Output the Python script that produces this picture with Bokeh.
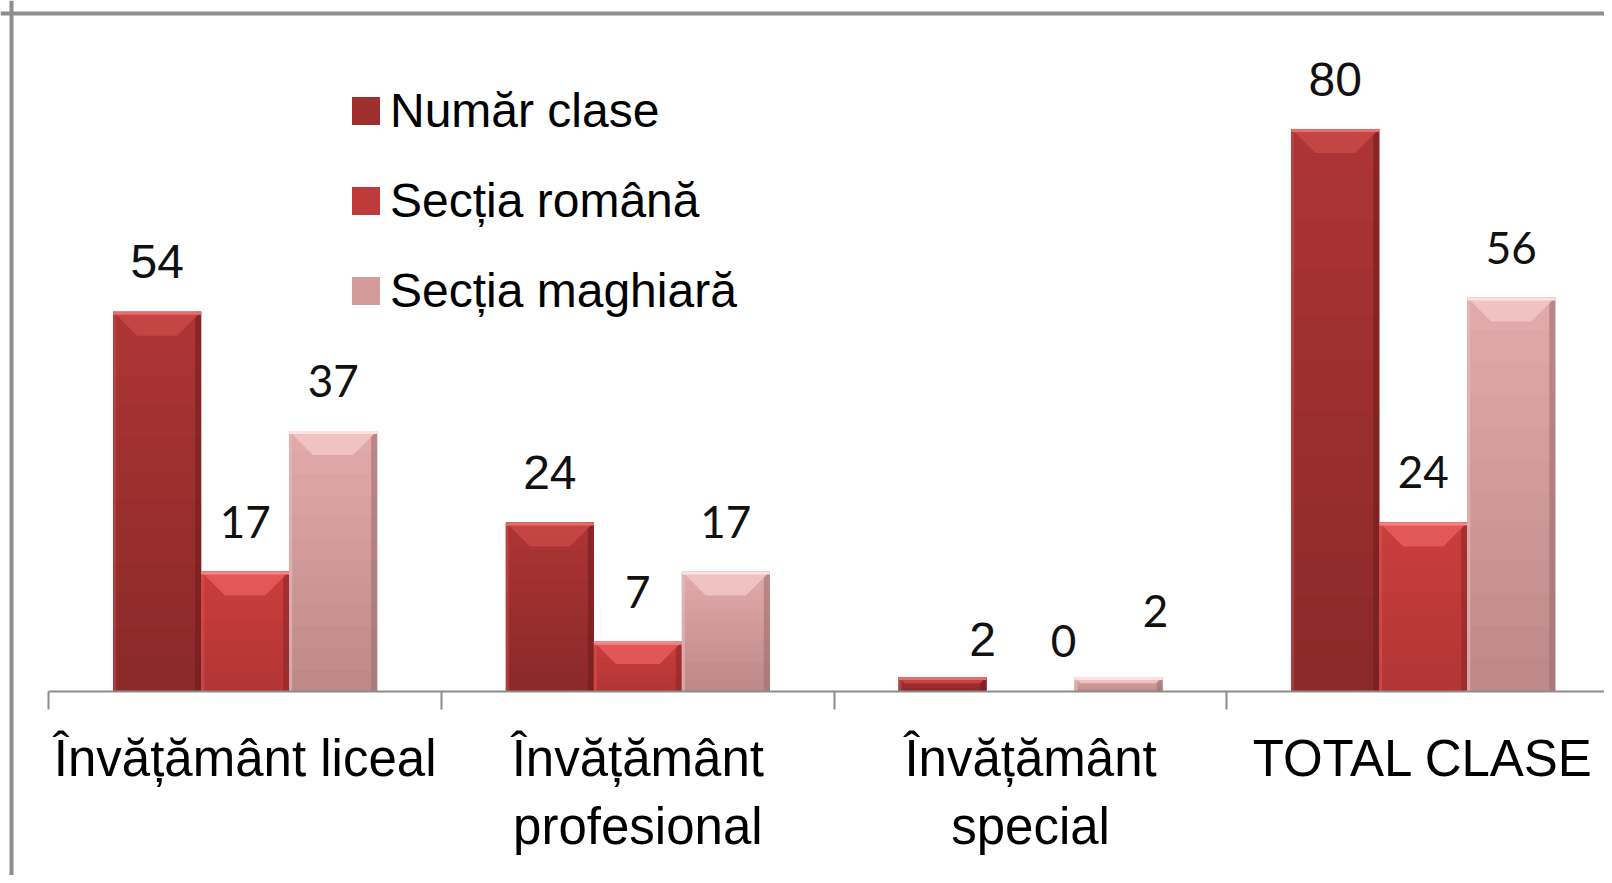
from bokeh.plotting import figure
from bokeh.models import (ColumnDataSource, Range1d, LinearAxis, FixedTicker, Span,
                          Legend, LegendItem)
from bokeh.embed import file_html
from bokeh.resources import INLINE
from bokeh.core.properties import value

# ---------------- data ----------------
categories = ["Învățământ liceal", "Învățământ\nprofesional", "Învățământ\nspecial", "TOTAL CLASE"]
series_names = ["Număr clase", "Secția română", "Secția maghiară"]
numar_clase = [54, 24, 2, 80]
sectia_romana = [17, 7, 0, 24]
sectia_maghiara = [37, 17, 2, 56]
series_values = [numar_clase, sectia_romana, sectia_maghiara]

# label nudges in pixels (the crowded "special" group was moved by hand)
label_dx = [[0, 0, 40, 0], [0, 0, 33, 0], [0, 0, 37, 0]]
label_dy = [[0, 0, 13, 0], [0, 0, 0, 0], [0, 0, -16, 0]]

# ---------------- styles ----------------
mid_col = ["#9e2f2f", "#bf3a3a", "#d39a9a"]
top_col = [(0xAE, 0x34, 0x34), (0xCB, 0x3D, 0x3D), (0xE3, 0xAA, 0xAA)]
bot_col = [(0x8A, 0x29, 0x29), (0xB2, 0x35, 0x35), (0xBD, 0x88, 0x88)]
bevel_col = ["#c94848", "#e65c5c", "#f2c8c8"]
hilite_col = ["#e46e6e", "#f78484", "#fce2e2"]
edge_dark = ["#6b1b1b", "#8a2525", "#9a6b6b"]
edge_light = ["#c04a4a", "#d85050", "#eabcbc"]
label_font = ["Liberation Sans", "Lato", "Lato"]
label_size = ["48px", "44px", "44px"]
label_gap = [-50, -50, -50]

# ---------------- geometry ----------------
W, H = 1604, 875
PX_X = 392.7          # pixels per category
PX_Y = 7.025          # pixels per class
X0 = 48.3             # x of first category boundary inside figure
Y0 = 690.5            # y of baseline inside figure
x_start = -X0 / PX_X
x_end = x_start + W / PX_X
y_end = Y0 / PX_Y
y_start = -(H - Y0) / PX_Y

BAR_W = 88 / PX_X
offsets = [-BAR_W, 0.0, BAR_W]

p = figure(width=W, height=H, output_backend="svg", toolbar_location=None,
           x_range=Range1d(x_start, x_end), y_range=Range1d(y_start, y_end),
           x_axis_type=None, y_axis_type=None,
           min_border_left=0, min_border_right=0, min_border_top=0, min_border_bottom=0)
p.outline_line_color = None
p.background_fill_color = "white"
p.border_fill_color = "white"

# frame border (left and top visible)
p.add_layout(Span(location=x_start + 11.0 / PX_X, dimension="height",
                  line_color="#8e8e8e", line_width=4))
p.add_layout(Span(location=y_end - 13.0 / PX_Y, dimension="width",
                  line_color="#8e8e8e", line_width=4))


def lerp(c1, c2, t):
    return "#%02x%02x%02x" % tuple(int(round(a + (b - a) * t)) for a, b in zip(c1, c2))


legend_items = []
N = 12
for s, vals in enumerate(series_values):
    xs = [i + 0.5 + offsets[s] for i in range(len(categories))]
    base = p.vbar(x=xs, top=vals, bottom=0, width=BAR_W, fill_color=mid_col[s],
                  line_color=None)
    legend_items.append(LegendItem(label=series_names[s], renderers=[base]))

    # vertical gradient of the body
    gx, gb, gt, gc = [], [], [], []
    for i, v in enumerate(vals):
        for k in range(N):
            gx.append(xs[i])
            gb.append(v * k / N)
            gt.append(v * (k + 1) / N)
            gc.append(lerp(bot_col[s], top_col[s], (k + 0.5) / N))
    p.vbar(x=gx, bottom=gb, top=gt, width=BAR_W, fill_color=gc, line_color=None)

    # side shading
    ew = 6 / PX_X
    lw = 3 / PX_X
    p.vbar(x=[x + BAR_W / 2 - ew / 2 for x in xs], top=vals, bottom=0, width=ew,
           fill_color=edge_dark[s], fill_alpha=0.55, line_color=None)
    p.vbar(x=[x - BAR_W / 2 + lw / 2 for x in xs], top=vals, bottom=0, width=lw,
           fill_color=edge_light[s], fill_alpha=0.6, line_color=None)

    # top bevel
    pxs, pys = [], []
    for i, v in enumerate(vals):
        if v <= 0:
            continue
        b = min(24.0, 0.45 * v * PX_Y)
        bx, by = b / PX_X, b / PX_Y
        xl, xr = xs[i] - BAR_W / 2, xs[i] + BAR_W / 2
        pxs.append([xl, xr, xr - bx, xl + bx])
        pys.append([v, v, v - by, v - by])
    p.patches(pxs, pys, fill_color=bevel_col[s], fill_alpha=0.85, line_color=None)
    hv = [v for v in vals if v > 0]
    hx = [xs[i] for i, v in enumerate(vals) if v > 0]
    p.vbar(x=hx, top=hv, bottom=[v - 3 / PX_Y for v in hv], width=BAR_W,
           fill_color=hilite_col[s], line_color=None)

    # value labels
    src = ColumnDataSource(dict(
        x=xs, y=vals, t=[str(v) for v in vals],
        dx=label_dx[s], dy=[label_gap[s] + d for d in label_dy[s]]))
    p.text(x="x", y="y", text="t", x_offset="dx", y_offset="dy", source=src,
           text_font=value(label_font[s]), text_font_size=label_size[s],
           text_color="#111111", text_align="center", text_baseline="alphabetic")

# x axis: boundary ticks
tick_axis = LinearAxis(fixed_location=0, ticker=FixedTicker(ticks=[0, 1, 2, 3, 4]),
                       bounds=(0, x_end))
tick_axis.axis_line_color = "#8c8c8c"
tick_axis.axis_line_width = 2
tick_axis.major_tick_line_color = "#8c8c8c"
tick_axis.major_tick_line_width = 2
tick_axis.major_tick_out = 18
tick_axis.major_tick_in = 0
tick_axis.minor_tick_line_color = None
tick_axis.major_label_text_color = None
p.add_layout(tick_axis, "below")

# x axis: category labels
lab_axis = LinearAxis(fixed_location=0,
                      ticker=FixedTicker(ticks=[i + 0.5 for i in range(len(categories))]))
lab_axis.major_label_overrides = {i + 0.5: c for i, c in enumerate(categories)}
lab_axis.axis_line_color = None
lab_axis.major_tick_line_color = None
lab_axis.minor_tick_line_color = None
lab_axis.major_tick_out = 0
lab_axis.major_tick_in = 0
lab_axis.major_label_standoff = 39
lab_axis.major_label_text_font = "Liberation Sans"
lab_axis.major_label_text_font_size = "51px"
lab_axis.major_label_text_color = "#000000"
p.add_layout(lab_axis, "below")

legend = Legend(items=legend_items, location=(348, H - 318), orientation="vertical",
                glyph_width=35, glyph_height=35, label_standoff=7, spacing=35,
                padding=0, margin=0, border_line_color=None, background_fill_alpha=0,
                label_text_font="Liberation Sans", label_text_font_size="48px",
                label_text_color="#000000")
p.add_layout(legend)

open("out.html", "w").write(file_html(p, INLINE))
